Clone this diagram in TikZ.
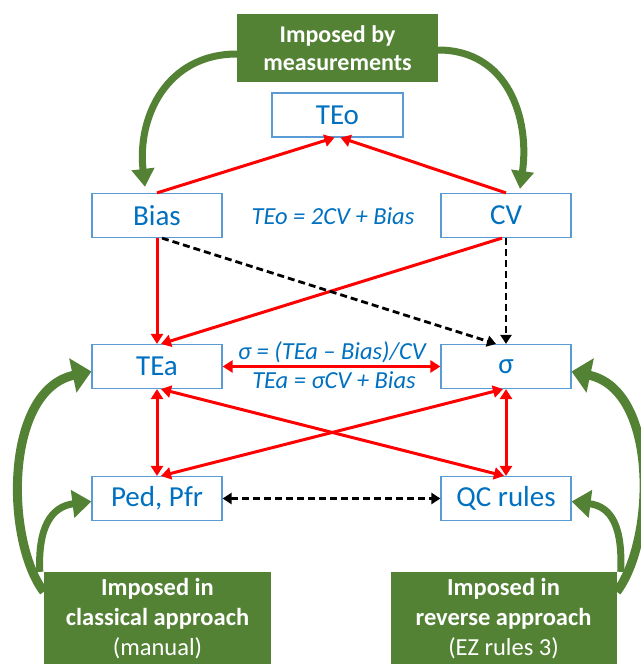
\documentclass[tikz,border=0pt]{standalone}
\usepackage{fontspec}
\setmainfont{Carlito}
\usetikzlibrary{arrows.meta,calc}
\definecolor{tblue}{HTML}{0070C0}
\definecolor{bborder}{HTML}{5B9BD5}
\definecolor{ogreen}{HTML}{548235}
\definecolor{ored}{HTML}{FF0000}
\begin{document}
\begin{tikzpicture}[x=1pt,y=-1pt,
  box/.style={draw=bborder, line width=1.2pt, fill=white, minimum width=130pt, minimum height=44pt, inner sep=0pt, text=tblue, font=\fontsize{29}{32}\selectfont},
  gbox/.style={fill=ogreen, text=white, inner sep=0pt, align=center},
  rarr/.style={draw=ored, line width=3pt, -{Triangle[length=10pt,width=12pt]}},
  rdbl/.style={draw=ored, line width=3pt, {Triangle[length=10pt,width=12pt]}-{Triangle[length=10pt,width=12pt]}},
  karr/.style={draw=black, line width=2.8pt, dash pattern=on 7pt off 4pt, -{Triangle[length=9pt,width=11pt]}},
  kdbl/.style={draw=black, line width=2.8pt, dash pattern=on 7pt off 4pt, {Triangle[length=9pt,width=11pt]}-{Triangle[length=9pt,width=11pt]}},
  gtoparr/.style={draw=ogreen, line width=7pt, -{Triangle[length=18pt,width=22pt]}},
  gbigarr/.style={draw=ogreen, line width=9pt, -{Triangle[length=19pt,width=34pt]}},
  gsmallarr/.style={draw=ogreen, line width=7pt, -{Triangle[length=19pt,width=27pt]}},
  formula/.style={text=tblue, inner sep=0pt, font=\fontsize{24.5}{26}\selectfont\itshape}
]
\useasboundingbox (0,0) rectangle (640,664);

% green boxes
\node[gbox, minimum width=201pt, minimum height=68pt, font=\fontsize{24}{28}\selectfont\bfseries] (gtop) at (337.5,48) {Imposed by\\measurements};
\node[gbox, minimum width=227pt, minimum height=94pt, font=\fontsize{24.5}{30}\selectfont] (gbl) at (157.5,619) {\textbf{Imposed in}\\\textbf{classical approach}\\(manual)};
\node[gbox, minimum width=226pt, minimum height=94pt, font=\fontsize{24.5}{30}\selectfont] (gbr) at (503.5,619) {\textbf{Imposed in}\\\textbf{reverse approach}\\(EZ rules 3)};

% blue boxes
\node[box, minimum width=131pt] (teo) at (337.5,115) {TEo};
\node[box] (bias) at (157,215.5) {Bias};
\node[box] (cv) at (506,215.5) {CV};
\node[box] (tea) at (157,366.5) {TEa};
\node[box] (sig) at (506,366.5) {σ};
\node[box] (ped) at (157,498.5) {Ped, Pfr};
\node[box] (qc) at (506,498.5) {QC rules};

% formulas
\node[formula] (f1) at (333,216) {TEo = 2CV + Bias};
\node[formula] (f2) at (332,352) {σ = (TEa – Bias)/CV};
\node[formula] (f3) at (334,380) {TEa = σCV + Bias};

% red and black connectors
\draw[rarr] (bias.north) -- ([xshift=-3pt]teo.south);
\draw[rarr] (cv.north) -- ([xshift=3pt]teo.south);
\draw[rarr] (bias.south) -- (tea.north);
\draw[rarr] ([xshift=-4pt]cv.south) -- ([xshift=4pt]tea.north);
\draw[karr] ([xshift=5pt]bias.south) -- ([xshift=-10pt]sig.north);
\draw[karr] (cv.south) -- (sig.north);
\draw[rdbl] (tea.east) -- (sig.west);
\draw[rdbl] (tea.south) -- (ped.north);
\draw[rdbl] ([xshift=4pt]tea.south) -- ([xshift=-2pt]qc.north);
\draw[rdbl] ([xshift=-3pt]sig.south) -- ([xshift=4pt]ped.north);
\draw[rdbl] (sig.south) -- (qc.north);
\draw[kdbl] (ped.east) -- (qc.west);

% green curved arrows
\draw[gtoparr] ([yshift=-6pt]gtop.west) .. controls +(-70,0) and +(-8,-70) .. ([xshift=-12pt,yshift=6pt]bias.north);
\draw[gtoparr] ([yshift=-2pt]gtop.east) .. controls +(70,0) and +(10,-70) .. ([xshift=14pt,yshift=4pt]cv.north);
\draw[gbigarr] ([yshift=-20pt]gbl.north west) .. controls +(-39,-52) and +(-87,18.5) .. ([yshift=-5pt]tea.west);
\draw[gsmallarr] ([xshift=-4pt]gbl.north west) .. controls +(-2,-45) and +(-40,5) .. ([yshift=-3pt]ped.west);
\draw[gbigarr] ([yshift=-20pt]gbr.north east) .. controls +(39,-52) and +(87,18.5) .. ([yshift=-5pt]sig.east);
\draw[gsmallarr] ([xshift=4pt]gbr.north east) .. controls +(2,-45) and +(40,5) .. ([yshift=-3pt]qc.east);
\end{tikzpicture}
\end{document}
